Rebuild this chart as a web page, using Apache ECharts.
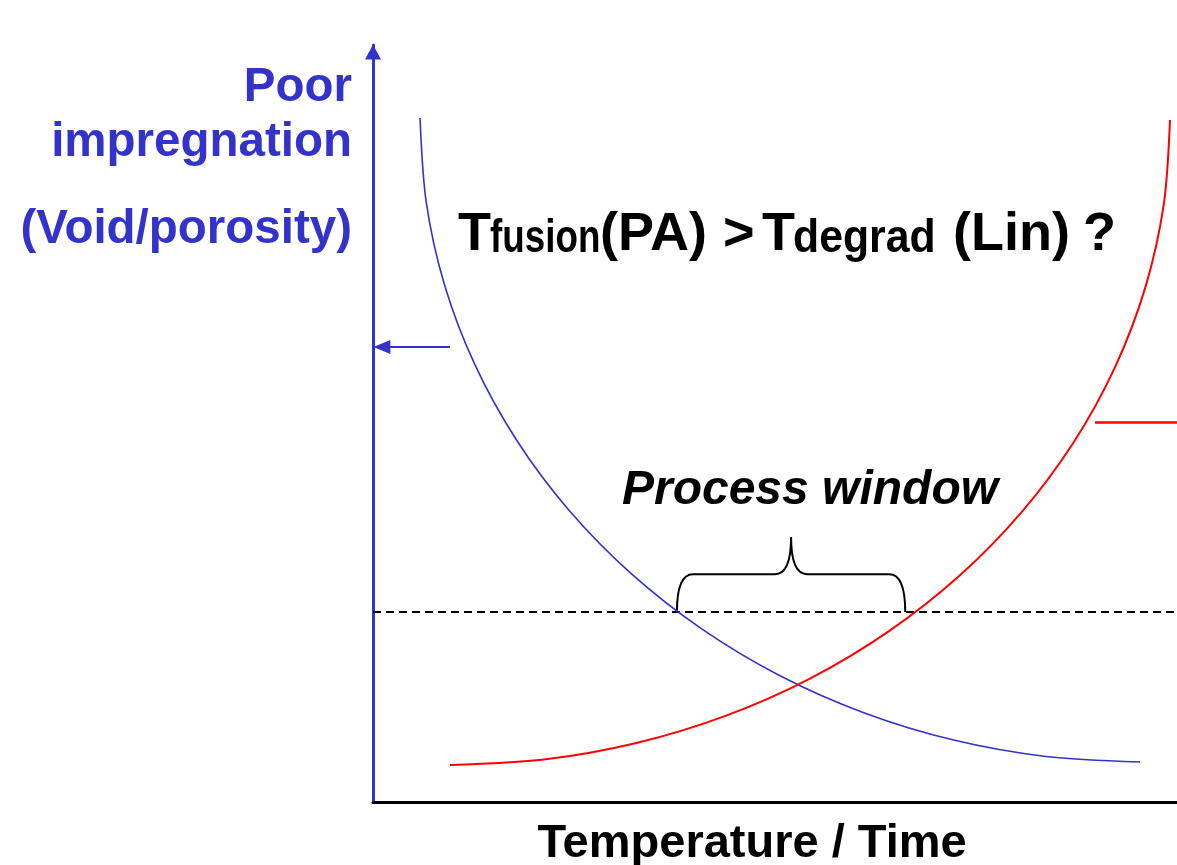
<!DOCTYPE html>
<html>
<head>
<meta charset="utf-8">
<script src="https://cdn.jsdelivr.net/npm/echarts@6/dist/echarts.min.js"></script>
<style>
  html, body { margin: 0; padding: 0; background: #fff; }
  #chart { width: 1177px; height: 865px; }
</style>
</head>
<body>
<div id="chart"></div>
<script>
// impregnation curve (blue) and degradation curve (red)
var blueX = [5.85, 6.62, 8.89, 12.66, 17.85, 24.35, 32.08, 40.88, 50.62, 61.13, 72.21, 83.71, 95.40];
var blueY = [90.36, 79.25, 68.34, 57.81, 47.82, 38.57, 30.20, 22.87, 16.68, 11.76, 8.18, 6.01, 5.28];
var redX = [9.58, 21.27, 32.76, 43.84, 54.35, 64.09, 72.90, 80.62, 87.13, 92.31, 96.08, 98.36, 99.13];
var redY = [4.89, 5.61, 7.79, 11.37, 16.30, 22.50, 29.84, 38.22, 47.49, 57.49, 68.05, 78.97, 90.09];

// acceptable level and process window
var limitY = 25.1;
var windowX = [37.8, 66.2];
var braceBarY = 30.1;
var braceTipY = 35.0;

// side markers
var blueMarkY = 60.1;
var blueMarkX = [9.58, 1.1];
var redMarkY = 50.1;
var redMarkX = [89.8, 100];

var BLUE = '#3333cc';
var RED = '#ff0000';
var FONT = 'Liberation Sans, Arial, sans-serif';

function pairs(xs, ys) {
    return xs.map(function (x, i) { return [x, ys[i]]; });
}

var chart = echarts.init(document.getElementById('chart'));

var titleParts = [
    { x: 458, text: 'T', size: 54, sx: 1 },
    { x: 490, text: 'fusion', size: 46, sx: 0.8 },
    { x: 600, text: '(PA)', size: 54, sx: 1 },
    { x: 723, text: '>', size: 54, sx: 1 },
    { x: 762, text: 'T', size: 54, sx: 1 },
    { x: 793, text: 'degrad', size: 46, sx: 0.93 },
    { x: 953, text: '(Lin)', size: 54, sx: 1 },
    { x: 1083, text: '?', size: 54, sx: 1 }
];

var labelFont = 'bold 47.5px ' + FONT;
var graphics = [
    { type: 'text', right: 1177 - 352, top: 64, style: { text: 'Poor', fill: BLUE, font: labelFont, textAlign: 'right' } },
    { type: 'text', right: 1177 - 352, top: 119, style: { text: 'impregnation', fill: BLUE, font: labelFont, textAlign: 'right' } },
    { type: 'text', right: 1177 - 352, top: 206, style: { text: '(Void/porosity)', fill: BLUE, font: labelFont, textAlign: 'right' } },
    { type: 'text', x: 810, y: 491, style: { text: 'Process window', fill: '#000', font: 'italic bold 48px ' + FONT, textAlign: 'center', textVerticalAlign: 'middle' } },
    { type: 'text', x: 752, y: 844, style: { text: 'Temperature / Time', fill: '#000', font: 'bold 47px ' + FONT, textAlign: 'center', textVerticalAlign: 'middle' } }
];
titleParts.forEach(function (p) {
    graphics.push({
        type: 'text', x: p.x, y: 262, scaleX: p.sx,
        style: { text: p.text, fill: '#000', font: 'bold ' + p.size + 'px ' + FONT, textAlign: 'left', textVerticalAlign: 'bottom' }
    });
});

var option = {
    animation: false,
    grid: { left: 373, right: 0, top: 45, bottom: 63 },
    xAxis: {
        type: 'value', min: 0, max: 100,
        axisLine: { lineStyle: { color: '#000', width: 3 } },
        axisTick: { show: false }, axisLabel: { show: false }, splitLine: { show: false }
    },
    yAxis: {
        type: 'value', min: 0, max: 100,
        axisLine: {
            show: true,
            lineStyle: { color: BLUE, width: 3 },
            symbol: ['none', 'triangle'], symbolSize: [16, 15], symbolOffset: [0, -7]
        },
        axisTick: { show: false }, axisLabel: { show: false }, splitLine: { show: false }
    },
    series: [
        {
            name: 'limit', type: 'line', data: [[0, limitY], [100, limitY]],
            showSymbol: false, silent: true,
            lineStyle: { color: '#000', width: 2, type: [8, 5] }
        },
        {
            name: 'impregnation', type: 'line', data: pairs(blueX, blueY),
            smooth: 0.3, showSymbol: false, silent: true,
            lineStyle: { color: BLUE, width: 1.6 },
            markLine: {
                silent: true, symbol: ['none', 'triangle'], symbolSize: [14, 17],
                label: { show: false },
                lineStyle: { color: BLUE, width: 2, type: 'solid' },
                data: [[{ coord: [blueMarkX[0], blueMarkY] }, { coord: [blueMarkX[1], blueMarkY] }]]
            }
        },
        {
            name: 'degradation', type: 'line', data: pairs(redX, redY),
            smooth: 0.3, showSymbol: false, silent: true,
            lineStyle: { color: RED, width: 2 },
            markLine: {
                silent: true, symbol: ['none', 'none'],
                label: { show: false },
                lineStyle: { color: RED, width: 2.5, type: 'solid' },
                data: [[{ coord: [redMarkX[0], redMarkY] }, { coord: [redMarkX[1], redMarkY] }]]
            }
        },
        {
            name: 'window', type: 'custom', silent: true,
            data: [[windowX[0], windowX[1], limitY, braceBarY, braceTipY]],
            renderItem: function (params, api) {
                var a = api.coord([api.value(0), api.value(2)]);
                var b = api.coord([api.value(1), api.value(2)]);
                var barY = api.coord([0, api.value(3)])[1];
                var tipY = api.coord([0, api.value(4)])[1];
                var xm = (a[0] + b[0]) / 2;
                var r = 16;
                var d = 'M' + a[0] + ',' + a[1] +
                    ' Q' + a[0] + ',' + barY + ' ' + (a[0] + r) + ',' + barY +
                    ' L' + (xm - r) + ',' + barY +
                    ' Q' + xm + ',' + barY + ' ' + xm + ',' + tipY +
                    ' Q' + xm + ',' + barY + ' ' + (xm + r) + ',' + barY +
                    ' L' + (b[0] - r) + ',' + barY +
                    ' Q' + b[0] + ',' + barY + ' ' + b[0] + ',' + b[1];
                return {
                    type: 'path',
                    shape: { pathData: d },
                    style: { fill: null, stroke: '#000', lineWidth: 2 }
                };
            }
        }
    ],
    graphic: graphics
};

chart.setOption(option);
</script>
</body>
</html>
